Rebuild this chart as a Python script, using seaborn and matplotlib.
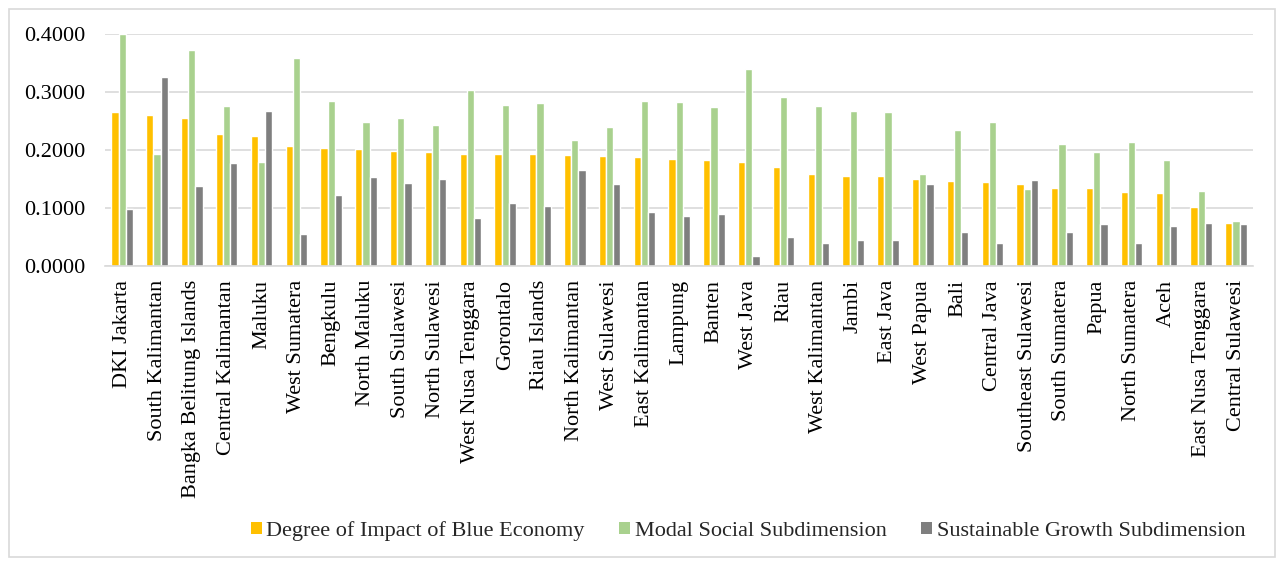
import matplotlib
matplotlib.use("Agg")
import matplotlib.pyplot as plt
import seaborn as sns
import pandas as pd
from matplotlib.patches import Rectangle

provinces = ["DKI Jakarta", "South Kalimantan", "Bangka Belitung Islands", "Central Kalimantan",
             "Maluku", "West Sumatera", "Bengkulu", "North Maluku", "South Sulawesi",
             "North Sulawesi", "West Nusa Tenggara", "Gorontalo", "Riau Islands",
             "North Kalimantan", "West Sulawesi", "East Kalimantan", "Lampung", "Banten",
             "West Java", "Riau", "West Kalimantan", "Jambi", "East Java", "West Papua",
             "Bali", "Central Java", "Southeast Sulawesi", "South Sumatera", "Papua",
             "North Sumatera", "Aceh", "East Nusa Tenggara", "Central Sulawesi"]

blue_economy = [0.265, 0.260, 0.256, 0.227, 0.224, 0.207, 0.204, 0.201, 0.199,
                0.197, 0.193, 0.193, 0.193, 0.191, 0.190, 0.188, 0.185, 0.182,
                0.179, 0.171, 0.158, 0.156, 0.155, 0.150, 0.147, 0.144, 0.141,
                0.135, 0.135, 0.127, 0.126, 0.101, 0.074]
modal_social = [0.400, 0.193, 0.373, 0.275, 0.179, 0.358, 0.284, 0.248, 0.255,
                0.243, 0.303, 0.278, 0.281, 0.217, 0.240, 0.284, 0.282, 0.274,
                0.340, 0.291, 0.275, 0.268, 0.266, 0.159, 0.234, 0.249, 0.133,
                0.211, 0.197, 0.213, 0.182, 0.129, 0.078]
sustainable_growth = [0.098, 0.325, 0.138, 0.178, 0.268, 0.055, 0.122, 0.153, 0.143,
                      0.150, 0.082, 0.108, 0.103, 0.166, 0.141, 0.093, 0.087, 0.090,
                      0.018, 0.050, 0.040, 0.045, 0.045, 0.141, 0.059, 0.039, 0.148,
                      0.059, 0.072, 0.040, 0.069, 0.074, 0.072]

series_names = ["Degree of Impact of Blue Economy", "Modal Social Subdimension",
                "Sustainable Growth Subdimension"]
colors = ["#FFC000", "#A9D18E", "#7F7F7F"]

rows = []
for name, vals in zip(series_names, [blue_economy, modal_social, sustainable_growth]):
    for p, v in zip(provinces, vals):
        rows.append({"Province": p, "Series": name, "Value": v})
df = pd.DataFrame(rows)

sns.set_theme(style="white")
plt.rcParams["font.family"] = ["Liberation Serif", "DejaVu Serif"]

fig = plt.figure(figsize=(12.79, 5.62), dpi=100)
ax = fig.add_axes([0.082, 0.5267, 0.898, 0.4128])

sns.barplot(data=df, x="Province", y="Value", hue="Series", order=provinces,
            hue_order=series_names, palette=colors, saturation=1, width=0.62,
            gap=0, ax=ax, legend=False, errorbar=None)

ax.set_ylim(0, 0.4)
ax.set_xlim(-0.5, len(provinces) - 0.5)
ax.set_yticks([0.0, 0.1, 0.2, 0.3, 0.4])
ax.set_yticklabels([f"{v:.4f}" for v in [0.0, 0.1, 0.2, 0.3, 0.4]], fontsize=16, color="#000000")
ax.set_xticks(range(len(provinces)))
ax.set_xticklabels(provinces, rotation=90, fontsize=16, color="#000000")
ax.tick_params(axis="y", length=0, pad=14)
ax.tick_params(axis="x", length=0, pad=10)
ax.set_xlabel("")
ax.set_ylabel("")
ax.grid(axis="y", color="#D9D9D9", linewidth=1.2)
ax.set_axisbelow(True)
for s in ["left", "right", "top"]:
    ax.spines[s].set_visible(False)
ax.spines["bottom"].set_color("#D9D9D9")
ax.spines["bottom"].set_linewidth(1.2)

handles = [Rectangle((0, 0), 1, 1, facecolor=c, edgecolor="none") for c in colors]
fig.legend(handles, series_names, loc="center", bbox_to_anchor=(748 / 1279, 0.055),
           ncol=3, frameon=False, fontsize=16, handlelength=0.5, handleheight=0.5,
           handletextpad=0.2, columnspacing=1.55, borderpad=0)

fig.patches.append(Rectangle((9 / 1279, 5 / 562), 1266 / 1279, 548 / 562,
                             transform=fig.transFigure, fill=False,
                             edgecolor="#D9D9D9", linewidth=1.2))

fig.savefig("out.png", dpi=100)
